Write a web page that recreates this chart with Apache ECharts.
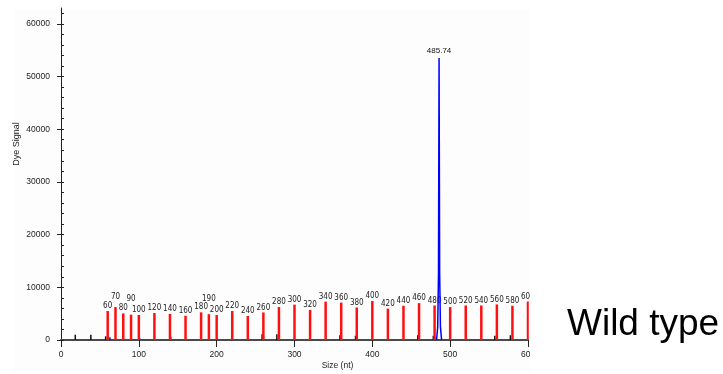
<!DOCTYPE html>
<html>
<head>
<meta charset="utf-8">
<script src="https://cdn.jsdelivr.net/npm/echarts@6/dist/echarts.min.js"></script>
<style>
  html, body { margin: 0; padding: 0; background: #ffffff; }
  #chart { width: 723px; height: 374px; }
</style>
</head>
<body>
<div id="chart"></div>
<script>
// ---- data ----
// size-standard (red) peaks: fragment size (nt) and dye signal
const standardSizes = [60, 70, 80, 90, 100, 120, 140, 160, 180, 190, 200, 220, 240, 260, 280, 300,
  320, 340, 360, 380, 400, 420, 440, 460, 480, 500, 520, 540, 560, 580, 600];
const standardSignal = [5500, 6250, 5050, 4800, 4750, 5130, 4950, 4600, 5250, 4900, 4750, 5500, 4560, 5230, 6250, 6700,
  5700, 7280, 7100, 6170, 7400, 5950, 6500, 7000, 6550, 6250, 6550, 6550, 6750, 6500, 7300];

// sample (blue) trace around the main peak
const bluePeakSize = 485.74;
const bluePeakSignal = 53500;
const blueTraceSize = [482.5, 484, 485, 485.74, 486.5, 487.5, 489];
const blueTraceSignal = [0, 2500, 12500, 53500, 12500, 2500, 0];
// small blue blips on the baseline
const blueBlipSize = [63, 101, 141];
const blueBlipSignal = [500, 400, 600];

// small black peaks on the baseline
const blackSize = [19, 39, 58, 259, 278, 359, 379, 459, 479, 558, 578];
const blackSignal = [1000, 1000, 700, 1100, 1100, 900, 800, 900, 800, 800, 900];

// axis tick labels
const yMajorTicks = [0, 10000, 20000, 30000, 40000, 50000, 60000];
const xTicks = [0, 100, 200, 300, 400, 500, 600];
const sampleLabel = 'Wild type';

// ---- styling (not data) ----
const raisedLabels = { 70: 5, 90: 11, 190: 10 };
const FONT = '"Liberation Sans", Arial, sans-serif';
const NARROW = '"Liberation Sans Narrow", "Arial Narrow", "DejaVu Sans Condensed", sans-serif';
const yMinorTicks = [];
for (let v = 0; v <= 62000; v += 2000) yMinorTicks.push(v);

const chart = echarts.init(document.getElementById('chart'), null, { renderer: 'canvas' });

const redData = standardSizes.map((s, i) => {
  const item = { value: [s, standardSignal[i]] };
  if (raisedLabels[s]) item.label = { offset: [0, -raisedLabels[s]] };
  return item;
});

const option = {
  backgroundColor: '#ffffff',
  animation: false,
  title: {
    text: sampleLabel,
    left: 567, top: 306, padding: 0,
    z: 60,
    textStyle: { fontSize: 37, fontWeight: 'normal', color: '#000', fontFamily: FONT }
  },
  graphic: [
    { type: 'rect', silent: true, z: -10, shape: { x: 14, y: 9, width: 516, height: 362 },
      style: { fill: '#fdfdfd' } },
    { type: 'rect', silent: true, z: 50, shape: { x: 530, y: 0, width: 193, height: 374 },
      style: { fill: '#ffffff' } }
  ],
  grid: { left: 61, right: 195, top: 8, bottom: 34, containLabel: false, outerBoundsMode: 'none' },
  xAxis: {
    type: 'value', min: xTicks[0], max: xTicks[xTicks.length - 1], interval: 100,
    name: 'Size (nt)', nameLocation: 'middle', nameGap: 21, nameMoveOverlap: false,
    nameTextStyle: { fontSize: 8.5, color: '#222', fontFamily: FONT, padding: [0, 0, 0, 86] },
    splitLine: { show: false },
    axisLine: { show: true, onZero: false, lineStyle: { color: '#4a4a4a', width: 2 } },
    axisTick: { show: true, inside: false, length: 7, lineStyle: { color: '#222', width: 1 } },
    axisLabel: { fontSize: 8.5, color: '#222', fontFamily: FONT, margin: 10,
      formatter: v => String(v) }
  },
  yAxis: [
    {
      type: 'value', position: 'left', min: 0, max: 63000,
      name: 'Dye Signal', nameLocation: 'middle', nameGap: 40, nameMoveOverlap: false,
      nameTextStyle: { fontSize: 9, color: '#222', fontFamily: FONT, padding: [0, 0, 0, 60] },
      splitLine: { show: false },
      axisLine: { show: true, lineStyle: { color: '#222', width: 1 } },
      axisTick: { show: true, inside: false, length: 4, customValues: yMajorTicks,
        lineStyle: { color: '#222', width: 1 } },
      axisLabel: { customValues: yMajorTicks, fontSize: 8.5, color: '#222', fontFamily: FONT, margin: 11,
        formatter: v => String(v) }
    },
    {
      type: 'value', position: 'left', min: 0, max: 63000, offset: 0,
      splitLine: { show: false },
      axisLine: { show: false },
      axisTick: { show: true, inside: true, length: 3, customValues: yMinorTicks,
        lineStyle: { color: '#222', width: 1 } },
      axisLabel: { show: false }
    }
  ],
  series: [
    {
      name: 'Black', type: 'bar', barWidth: 1.5, z: 3,
      itemStyle: { color: '#111' },
      data: blackSize.map((s, i) => [s, blackSignal[i]])
    },
    {
      name: 'Blue blips', type: 'bar', barWidth: 2, z: 3,
      itemStyle: { color: '#1a1aff' },
      data: blueBlipSize.map((s, i) => [s, blueBlipSignal[i]])
    },
    {
      name: 'Size standard', type: 'bar', barWidth: 2.5, z: 4, barGap: '-100%',
      itemStyle: { color: '#ff1010' },
      label: {
        show: true, position: 'top', distance: 1,
        formatter: p => String(p.value[0]),
        fontSize: 8, color: '#222', fontFamily: NARROW
      },
      data: redData
    },
    {
      name: 'Sample', type: 'line', showSymbol: false, symbol: 'none', z: 5,
      lineStyle: { color: '#0000ff', width: 1.5 },
      data: blueTraceSize.map((s, i) => [s, blueTraceSignal[i]])
    },
    {
      name: 'Sample peak', type: 'scatter', z: 6, symbolSize: 1,
      itemStyle: { color: 'rgba(0,0,255,0)' },
      label: {
        show: true, position: 'top', distance: 3, opacity: 1,
        formatter: p => p.value[0].toFixed(2),
        fontSize: 8, color: '#111', fontFamily: FONT
      },
      data: [[bluePeakSize, bluePeakSignal]]
    }
  ]
};
chart.setOption(option);
</script>
</body>
</html>
